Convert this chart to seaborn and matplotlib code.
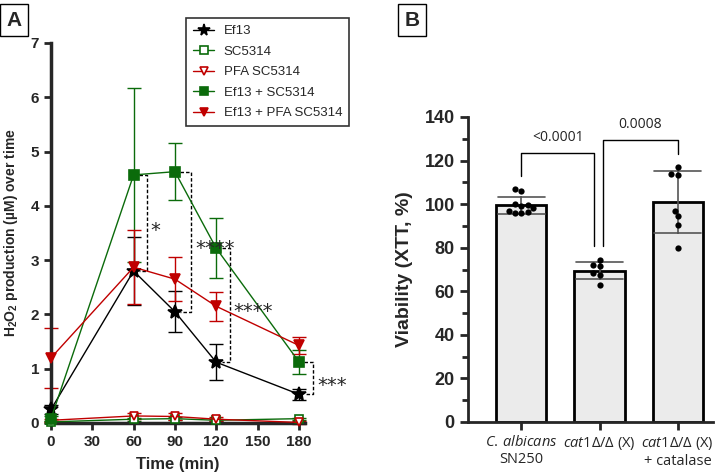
import numpy as np
import pandas as pd
import matplotlib
matplotlib.use("Agg")
import matplotlib.pyplot as plt
import seaborn as sns

# --- panel A data (means and SD) ---
times = [0, 60, 90, 120, 180]
ef13 = [0.25, 2.80, 2.05, 1.12, 0.53]
ef13_sd = [0.08, 0.63, 0.38, 0.33, 0.10]
sc5314 = [0.02, 0.07, 0.08, 0.05, 0.08]
sc5314_sd = [0.02, 0.03, 0.03, 0.02, 0.02]
pfa_sc5314 = [0.05, 0.13, 0.12, 0.07, 0.01]
pfa_sc5314_sd = [0.03, 0.06, 0.07, 0.04, 0.02]
ef13_sc = [0.08, 4.57, 4.63, 3.22, 1.13]
ef13_sc_sd = [0.05, 1.61, 0.52, 0.55, 0.22]
ef13_pfa = [1.20, 2.87, 2.65, 2.15, 1.43]
ef13_pfa_sd = [0.55, 0.68, 0.40, 0.27, 0.16]

# significance brackets between Ef13 + SC5314 and Ef13
sig_t = [60, 90, 120, 180]
sig_x = [69.7, 101.6, 130.0, 190.0]
sig_top = [4.57, 4.63, 3.22, 1.13]
sig_bot = [2.80, 2.05, 1.12, 0.53]
sig_labels = ["*", "****", "****", "***"]
sig_lab_x = [75.5, 119.0, 146.5, 204.5]
sig_lab_y = [3.55, 3.22, 2.05, 0.70]

# --- panel B data (individual replicates) ---
groups_b = ["SN250", "cat1", "cat1_cat"]
tick_b = [r"$\mathit{C.\,albicans}$" + "\nSN250",
          r"$\mathit{cat1\Delta/\Delta}$ (X)",
          r"$\mathit{cat1\Delta/\Delta}$ (X)" + "\n+ catalase"]
sn250_vals = [107, 106, 100, 99.5, 99, 98, 96.5, 96, 96, 97]
cat1_vals = [74.5, 72, 71.5, 68.5, 67.5, 63]
cat1_cat_vals = [117, 114, 113.5, 97, 94.5, 90.5, 80]
p_labels = ["<0.0001", "0.0008"]

sns.set_style("ticks")
plt.rcParams['font.family'] = ['Liberation Sans', 'DejaVu Sans']
plt.rcParams['mathtext.fontset'] = 'custom'
plt.rcParams['mathtext.rm'] = 'Open Sans'
plt.rcParams['mathtext.it'] = 'Open Sans:italic'
plt.rcParams['mathtext.bf'] = 'Liberation Sans:bold'

fig = plt.figure(figsize=(7.2, 4.72), dpi=100)

# ---------------- panel A ----------------
axA = fig.add_axes([51/720, 1 - 423/472, (305-51)/720, (423-43)/472])
green = "#0b6b0b"
red = "#c00000"
series = [
    ("Ef13", ef13, ef13_sd, "black", "*", "black", 10),
    ("SC5314", sc5314, sc5314_sd, green, "s", "white", 6),
    ("PFA SC5314", pfa_sc5314, pfa_sc5314_sd, red, "v", "white", 6),
    ("Ef13 + SC5314", ef13_sc, ef13_sc_sd, green, "s", green, 6.5),
    ("Ef13 + PFA SC5314", ef13_pfa, ef13_pfa_sd, red, "v", red, 7.5),
]
handles = []
for name, vals, sd, c, m, fc, ms in series:
    axA.errorbar(times, vals, yerr=sd, fmt="none", ecolor=c, elinewidth=1,
                 capsize=5, capthick=1, clip_on=False, zorder=2)
    sns.lineplot(x=times, y=vals, ax=axA, color=c, linewidth=1, marker=m,
                 markersize=ms, markerfacecolor=fc, markeredgecolor=c,
                 markeredgewidth=1.2, clip_on=False, zorder=3)
    h, = axA.plot([], [], color=c, linewidth=1, marker=m, markersize=ms * 0.85,
                  markerfacecolor=fc, markeredgecolor=c, markeredgewidth=1.2)
    handles.append((h, name))

for i in range(4):
    xs = sig_t[i] + 4
    xb = sig_x[i]
    axA.plot([xs, xb, xb, xs], [sig_top[i], sig_top[i], sig_bot[i], sig_bot[i]],
             color="black", linestyle=(0, (2.5, 1.5)), linewidth=1, clip_on=False)
    axA.text(sig_lab_x[i], sig_lab_y[i], sig_labels[i], ha="center", va="center",
             fontsize=14, fontfamily="DejaVu Sans")

axA.set_xlim(0, 184.5)
axA.set_ylim(0, 7)
axA.set_xticks([0, 30, 60, 90, 120, 150, 180])
axA.set_yticks(range(8))
axA.set_xlabel("Time (min)", fontsize=12, fontweight="bold", labelpad=6)
axA.set_ylabel("H$_\\mathbf{2}$O$_\\mathbf{2}$ production (µM) over time",
               fontsize=10, fontweight="bold", labelpad=8)
for lab in axA.get_xticklabels() + axA.get_yticklabels():
    lab.set_fontweight("bold")
    lab.set_fontsize(11)
axA.tick_params(width=2, length=5)
for s in ["left", "bottom"]:
    axA.spines[s].set_linewidth(2.5)
sns.despine(ax=axA)

leg = fig.legend([h for h, _ in handles], [n for _, n in handles],
                 loc="upper left", bbox_to_anchor=(186/720, 1 - 18/472),
                 borderaxespad=0, fancybox=False, edgecolor="black",
                 fontsize=9.5, handlelength=1.6, handletextpad=0.7,
                 borderpad=0.55, labelspacing=0.62)
leg.get_frame().set_linewidth(1.2)

# ---------------- panel B ----------------
axB = fig.add_axes([468/720, 1 - 422/472, (713-468)/720, (422-117)/472])
dfB = pd.DataFrame({
    "group": [groups_b[0]] * len(sn250_vals) + [groups_b[1]] * len(cat1_vals)
             + [groups_b[2]] * len(cat1_cat_vals),
    "val": sn250_vals + cat1_vals + cat1_cat_vals,
})
sns.barplot(data=dfB, x="group", y="val", order=groups_b, errorbar="sd",
            color="#ebebeb", edgecolor="black", linewidth=2, width=0.64,
            capsize=0.6, err_kws={"color": "#555555", "linewidth": 1.2}, ax=axB)
sns.swarmplot(data=dfB, x="group", y="val", order=groups_b, color="black",
              size=4.5, ax=axB, zorder=4)
axB.set_xlim(-0.68, 2.45)
axB.set_ylim(0, 140)
axB.set_yticks(range(0, 141, 20))
axB.set_yticks(range(10, 140, 20), minor=True)
axB.set_xticks(range(3))
axB.set_xticklabels(tick_b, fontsize=10.5, fontfamily="Open Sans")
for lab in axB.get_yticklabels():
    lab.set_fontweight("bold")
    lab.set_fontsize(13)
axB.set_xlabel("")
axB.set_ylabel("Viability (XTT, %)", fontsize=14, fontweight="bold", labelpad=8)
axB.tick_params(axis="both", which="major", width=2, length=6)
axB.tick_params(axis="y", which="minor", width=2, length=4)
for s in ["left", "bottom"]:
    axB.spines[s].set_linewidth(2)
sns.despine(ax=axB)

# p-value brackets
axB.plot([0, 0, 0.935, 0.935], [113, 123.7, 123.7, 81], color="black", lw=1)
axB.plot([1.05, 1.05, 2, 2], [81, 129.4, 129.4, 123], color="black", lw=1)
axB.text(0.47, 127, p_labels[0], ha="center", va="bottom", fontsize=10,
         fontfamily="Open Sans", color="#222222")
axB.text(1.52, 133, p_labels[1], ha="center", va="bottom", fontsize=10,
         fontfamily="Open Sans", color="#222222")

# panel letters
fig.text(14/720, 1 - 20/472, "A", fontsize=15, fontweight="bold", ha="center",
         va="center", bbox=dict(boxstyle="square,pad=0.3", fc="white", ec="black", lw=1))
fig.text(412/720, 1 - 20/472, "B", fontsize=15, fontweight="bold", ha="center",
         va="center", bbox=dict(boxstyle="square,pad=0.3", fc="white", ec="black", lw=1))

fig.savefig("out.png", dpi=100)
